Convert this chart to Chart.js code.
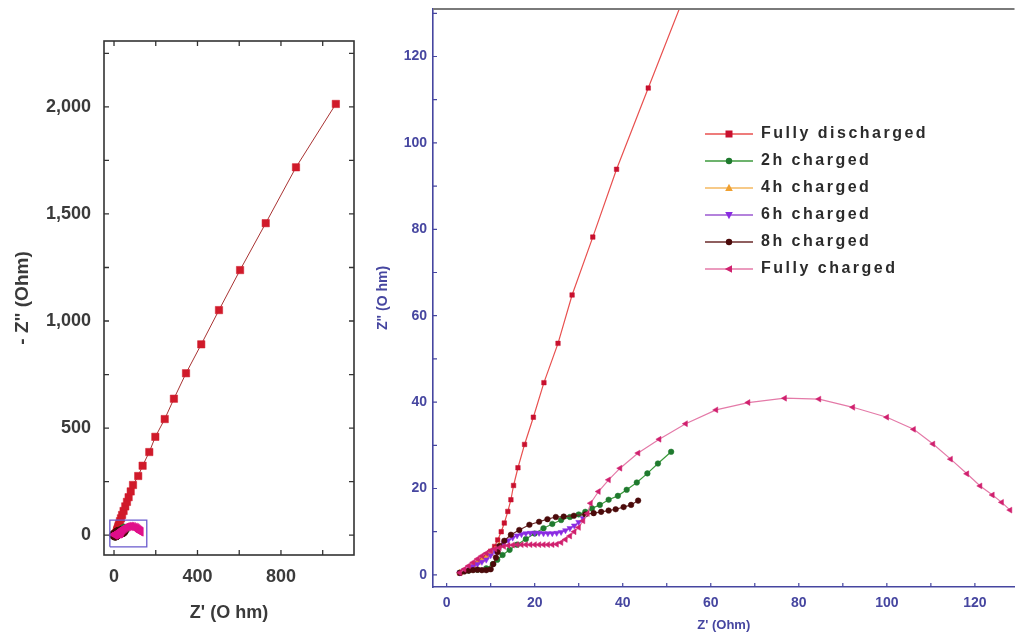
<!DOCTYPE html>
<html><head><meta charset="utf-8">
<script src="https://cdn.jsdelivr.net/npm/chart.js@4.4.1/dist/chart.umd.min.js"></script>
<style>
html,body{margin:0;padding:0;background:#fff;width:1019px;height:637px;overflow:hidden}
canvas{position:absolute;top:0}
#c1{left:0;width:370px;height:637px}
#c2{left:370px;width:649px;height:637px}
</style></head><body>
<canvas id="c1" width="370" height="637"></canvas>
<canvas id="c2" width="649" height="637"></canvas>
<script>
const FONT = "'Liberation Sans', Arial, Helvetica, sans-serif";

// ---- data ----
const seriesNames = ['Fully discharged', '2h charged', '4h charged', '6h charged', '8h charged', 'Fully charged'];

const fdX = [3.0, 4.0, 5.0, 6.0, 7.0, 8.0, 9.0, 10.0, 10.9, 11.6, 12.4, 13.1, 13.9, 14.6, 15.2, 16.2, 17.7, 19.7, 22.1, 25.3, 28.5, 33.2, 38.6, 45.8, 54, 62, 70, 80, 91, 116, 137, 169, 198, 243, 287, 345, 418, 503, 604, 727, 872, 1063];
const fdY = [0.4, 1.0, 1.6, 2.3, 3.0, 3.8, 4.6, 5.5, 6.6, 8.1, 10.0, 12.0, 14.7, 17.4, 20.7, 24.8, 30.2, 36.5, 44.5, 53.6, 64.8, 78.2, 93.9, 112.7, 134, 155, 177, 204, 234, 276, 324, 388, 459, 542, 637, 756, 891, 1051, 1238, 1457, 1718, 2014];

const h2X = [3.0, 5.0, 7.0, 9.0, 10.5, 11.5, 12.7, 14.3, 16.0, 18.0, 20.0, 22.0, 24.0, 26.0, 28.0, 30.0, 31.5, 33.0, 34.8, 36.8, 38.9, 40.9, 43.2, 45.6, 48.0, 51.0];
const h2Y = [0.5, 1.0, 1.2, 1.5, 2.5, 3.5, 4.6, 5.8, 7.0, 8.3, 9.6, 10.8, 11.8, 12.7, 13.4, 14.0, 14.6, 15.4, 16.2, 17.4, 18.3, 19.7, 21.4, 23.5, 25.8, 28.5];

const h4X = [3.0, 4.0, 5.0, 6.0, 7.0, 8.0, 9.0, 10.0, 11.0, 12.0];
const h4Y = [0.5, 1.0, 1.6, 2.2, 2.8, 3.4, 4.1, 4.9, 5.9, 6.9];

const h6X = [3, 4, 5, 6, 7, 8, 9, 10, 11, 12, 13, 14, 15, 16, 17, 18, 19, 20, 21, 22, 23, 24, 25, 26, 27, 28, 29, 30, 31];
const h6Y = [0.5, 1.0, 1.5, 2.0, 2.5, 3.0, 3.5, 4.5, 5.5, 6.5, 7.3, 8.0, 8.6, 9.1, 9.4, 9.6, 9.7, 9.7, 9.7, 9.6, 9.6, 9.6, 9.7, 9.9, 10.3, 10.8, 11.4, 12.2, 13.1];

const h8X = [3, 4, 5, 6, 7, 8, 9, 10, 10.6, 11.2, 11.6, 12.0, 13.1, 14.6, 16.5, 18.8, 21.0, 22.9, 24.8, 26.6, 28.9, 31.5, 33.4, 35.1, 36.8, 38.4, 40.2, 41.9, 43.5];
const h8Y = [0.5, 0.8, 1.0, 1.1, 1.2, 1.1, 1.1, 1.3, 2.5, 4.0, 5.3, 6.7, 7.9, 9.3, 10.4, 11.6, 12.3, 12.9, 13.4, 13.5, 13.7, 14.0, 14.3, 14.6, 14.9, 15.2, 15.7, 16.2, 17.2];

const fcX = [3, 4, 5, 6, 7, 8, 9, 10, 11, 12, 13, 14, 15, 16, 17, 18, 19, 20, 21, 22, 23, 24, 25, 26, 27, 28, 29, 30, 31, 32, 32.7, 34.5, 36.8, 39.4, 43.5, 48.3, 54.3, 61.2, 68.5, 76.8, 84.6, 92.3, 100, 106.1, 110.5, 114.5, 118.2, 121.2, 124, 126.1, 128];
const fcY = [0.5, 1.3, 2.1, 2.9, 3.7, 4.4, 5.0, 5.6, 6.0, 6.3, 6.6, 6.8, 6.9, 7.0, 7.0, 7.0, 7.0, 7.0, 7.0, 7.0, 7.0, 7.0, 7.1, 7.5, 8.2, 9.0, 10.0, 11.0, 12.5, 14.2, 16.6, 19.3, 22.0, 24.7, 28.2, 31.4, 35.0, 38.2, 39.9, 40.9, 40.7, 38.8, 36.5, 33.7, 30.3, 26.8, 23.4, 20.6, 18.5, 16.8, 15.0];

const zoomBoxX = [-20, 157, 157, -20, -20];
const zoomBoxY = [-55, -55, 70, 70, -55];

// tick positions and the ones that carry labels
const leftXTicks = [0, 200, 400, 600, 800, 1000];
const leftXLabels = [0, 400, 800];
const leftYTicks = [0, 250, 500, 750, 1000, 1250, 1500, 1750, 2000, 2250];
const leftYLabels = [0, 500, 1000, 1500, 2000];
const rightXTicks = [0, 10, 20, 30, 40, 50, 60, 70, 80, 90, 100, 110, 120];
const rightXLabels = [0, 20, 40, 60, 80, 100, 120];
const rightYTicks = [0, 10, 20, 30, 40, 50, 60, 70, 80, 90, 100, 110, 120, 130];
const rightYLabels = [0, 20, 40, 60, 80, 100, 120];

const seriesX = [fdX, h2X, h4X, h6X, h8X, fcX];
const seriesY = [fdY, h2Y, h4Y, h6Y, h8Y, fcY];

// ---- styles ----
const styles = [
  {marker: '#c8102e', line: '#e8504f', style: 'rect', rot: 0},
  {marker: '#1f7a2e', line: '#3c9a3c', style: 'circle', rot: 0},
  {marker: '#f0a030', line: '#f4b860', style: 'triangle', rot: 0},
  {marker: '#8a2be2', line: '#9b59d0', style: 'triangle', rot: 180},
  {marker: '#4b0a0a', line: '#6a2a2a', style: 'circle', rot: 0},
  {marker: '#d0206e', line: '#e47aa8', style: 'triangle', rot: 270}
];

const pts = (xs, ys) => xs.map((x, i) => ({x: x, y: ys[i]}));
const fmt = v => v.toLocaleString('en-US');
const setTicks = vals => s => { s.ticks = vals.map(v => ({value: v})); };

function legendIcon(st) {
  const c = document.createElement('canvas');
  c.width = 48; c.height = 12;
  const g = c.getContext('2d');
  g.strokeStyle = st.line; g.lineWidth = 1.3;
  g.beginPath(); g.moveTo(0, 6); g.lineTo(48, 6); g.stroke();
  g.fillStyle = st.marker;
  g.save(); g.translate(24, 6); g.rotate(st.rot * Math.PI / 180);
  g.beginPath();
  if (st.style === 'rect') g.rect(-3.5, -3.5, 7, 7);
  else if (st.style === 'circle') g.arc(0, 0, 3.2, 0, Math.PI * 2);
  else { g.moveTo(0, -4.2); g.lineTo(3.8, 3); g.lineTo(-3.8, 3); g.closePath(); }
  g.fill(); g.restore();
  return c;
}
const legendIcons = styles.map(legendIcon);

// ---- plugins ----
const frame = {
  id: 'frame',
  afterDatasetsDraw(chart, args, o) {
    const ctx = chart.ctx, a = chart.chartArea, xs = chart.scales.x, ys = chart.scales.y;
    ctx.save();
    ctx.strokeStyle = o.tickColor; ctx.lineWidth = o.tickWidth;
    ctx.beginPath();
    xs.ticks.forEach(t => {
      const p = xs.getPixelForValue(t.value);
      ctx.moveTo(p, a.bottom); ctx.lineTo(p, a.bottom - o.len);
      if (o.all) { ctx.moveTo(p, a.top); ctx.lineTo(p, a.top + o.len); }
    });
    ys.ticks.forEach(t => {
      const p = ys.getPixelForValue(t.value);
      ctx.moveTo(a.left, p); ctx.lineTo(a.left + o.len, p);
      if (o.all) { ctx.moveTo(a.right, p); ctx.lineTo(a.right - o.len, p); }
    });
    ctx.stroke();
    if (o.box) {
      ctx.strokeStyle = o.boxColor; ctx.lineWidth = o.boxWidth;
      ctx.strokeRect(a.left, a.top, a.right - a.left, a.bottom - a.top);
    }
    if (o.topLine) {
      ctx.strokeStyle = o.topColor; ctx.lineWidth = o.topWidth;
      ctx.beginPath(); ctx.moveTo(a.left, a.top); ctx.lineTo(a.right, a.top); ctx.stroke();
    }
    ctx.restore();
  }
};

const legendPlace = {
  id: 'legendPlace',
  beforeDraw(chart, args, o) {
    const lg = chart.legend;
    if (!lg) return;
    const w = lg.width, h = lg.height;
    lg.left = o.left; lg.top = o.top; lg.right = o.left + w + 80; lg.bottom = o.top + h + 10;
    if (!lg._wrapped) {
      const orig = lg.draw.bind(lg);
      lg.draw = function (ca) {
        const c = chart.ctx; c.save(); c.letterSpacing = o.spacing; orig(ca); c.restore();
      };
      lg._wrapped = true;
    }
  }
};

// ---- left chart ----
const leftDatasets = [{
  label: 'zoom', data: pts(zoomBoxX, zoomBoxY), showLine: true, borderColor: '#6a5acd',
  borderWidth: 1.3, pointRadius: 0, order: 0
}].concat(seriesNames.map((n, i) => ({
  label: n, data: pts(seriesX[i], seriesY[i]), showLine: true,
  borderColor: i === 0 ? '#a83232' : styles[i].line, borderWidth: 1,
  pointStyle: styles[i].style, rotation: styles[i].rot,
  pointRadius: i === 0 ? 5.2 : 5, pointBackgroundColor: i === 0 ? '#d01a2a' : (i === 5 ? '#e0108a' : styles[i].marker),
  pointBorderColor: i === 0 ? '#d01a2a' : (i === 5 ? '#e0108a' : styles[i].marker), pointBorderWidth: 0.5,
  order: 10 - i
})));

new Chart(document.getElementById('c1'), {
  type: 'scatter',
  data: {datasets: leftDatasets},
  options: {
    responsive: false, animation: false, devicePixelRatio: 1, events: [],
    layout: {padding: {top: 41, right: 16, left: 0, bottom: 0}},
    plugins: {
      legend: {display: false}, tooltip: {enabled: false},
      frame: {tickColor: '#333', tickWidth: 1.3, len: 5, all: true, box: true, boxColor: '#333', boxWidth: 1.6}
    },
    scales: {
      x: {
        type: 'linear', min: -48, max: 1150,
        grid: {display: false, drawTicks: false}, border: {display: false},
        afterBuildTicks: setTicks(leftXTicks),
        ticks: {autoSkip: false, maxRotation: 0, padding: 11,
          color: '#3a3a3a', font: {family: FONT, size: 18, weight: 'bold'},
          callback: v => leftXLabels.includes(v) ? fmt(v) : ''},
        title: {display: true, text: "Z' (O hm)", color: '#3a3a3a',
          font: {family: FONT, size: 18, weight: 'bold'}, padding: {top: 0, bottom: 13}},
        afterFit: s => { s.height = 82; s.paddingLeft = 0; s.paddingRight = 0; }
      },
      y: {
        type: 'linear', min: -93, max: 2308,
        grid: {display: false, drawTicks: false}, border: {display: false},
        afterBuildTicks: setTicks(leftYTicks),
        ticks: {autoSkip: false, padding: 13,
          color: '#3a3a3a', font: {family: FONT, size: 18, weight: 'bold'},
          callback: v => leftYLabels.includes(v) ? fmt(v) : ''},
        title: {display: true, text: '- Z" (Ohm)', color: '#3a3a3a',
          font: {family: FONT, size: 19, weight: 'bold'}, padding: {top: 11, bottom: 0}},
        afterFit: s => { s.width = 104; s.paddingTop = 0; s.paddingBottom = 0; }
      }
    }
  },
  plugins: [frame]
});

// ---- right chart ----
const BLUE = 'rgb(70,70,160)';
const rightDatasets = seriesNames.map((n, i) => ({
  label: n, data: pts(seriesX[i], seriesY[i]), showLine: true,
  borderColor: styles[i].line, borderWidth: 1.2,
  pointStyle: styles[i].style, rotation: styles[i].rot,
  pointRadius: i === 0 ? 3.2 : (styles[i].style === 'triangle' ? 3.4 : 2.8),
  pointBackgroundColor: styles[i].marker, pointBorderColor: styles[i].marker, pointBorderWidth: 0.5,
  order: 10 - i
}));

new Chart(document.getElementById('c2'), {
  type: 'scatter',
  data: {datasets: rightDatasets},
  options: {
    responsive: false, animation: false, devicePixelRatio: 1, events: [],
    layout: {padding: {top: 9, right: 0, left: 0, bottom: 0}},
    plugins: {
      tooltip: {enabled: false},
      legend: {
        display: true, position: 'chartArea', align: 'start',
        labels: {
          usePointStyle: true, pointStyleWidth: 48, padding: 11, color: '#2b2b2b',
          font: {family: FONT, size: 16, weight: 'bold'},
          generateLabels: chart => chart.data.datasets.map((ds, i) => ({
            text: ds.label, pointStyle: legendIcons[i], datasetIndex: i, hidden: false,
            fillStyle: 'rgba(0,0,0,0)', strokeStyle: 'rgba(0,0,0,0)', lineWidth: 0, fontColor: '#2b2b2b'
          }))
        }
      },
      legendPlace: {left: 324, top: 115, spacing: '2.5px'},
      frame: {tickColor: BLUE, tickWidth: 1.2, len: 4, all: false, box: false,
        topLine: true, topColor: '#7a7a7a', topWidth: 2}
    },
    scales: {
      x: {
        type: 'linear', min: -3.1, max: 129,
        grid: {display: false, drawTicks: false}, border: {display: true, color: BLUE, width: 1.6},
        afterBuildTicks: setTicks(rightXTicks),
        ticks: {autoSkip: false, maxRotation: 0, padding: 8,
          color: BLUE, font: {family: FONT, size: 14, weight: 'bold'},
          callback: v => rightXLabels.includes(v) ? String(v) : ''},
        title: {display: true, text: "Z' (Ohm)", color: BLUE,
          font: {family: FONT, size: 13, weight: 'bold'}, padding: {top: 0, bottom: 4}},
        afterFit: s => { s.height = 50; s.paddingLeft = 0; s.paddingRight = 0; }
      },
      y: {
        type: 'linear', min: -2.8, max: 131,
        grid: {display: false, drawTicks: false}, border: {display: true, color: BLUE, width: 1.6},
        afterBuildTicks: setTicks(rightYTicks),
        ticks: {autoSkip: false, padding: 6,
          color: BLUE, font: {family: FONT, size: 14, weight: 'bold'},
          callback: v => rightYLabels.includes(v) ? String(v) : ''},
        title: {display: true, text: 'Z" (O hm)', color: BLUE,
          font: {family: FONT, size: 14, weight: 'bold'}, padding: {top: 5, bottom: 0}},
        afterFit: s => { s.width = 63; s.paddingTop = 0; s.paddingBottom = 0; }
      }
    }
  },
  plugins: [legendPlace, frame]
});
</script>
</body></html>
